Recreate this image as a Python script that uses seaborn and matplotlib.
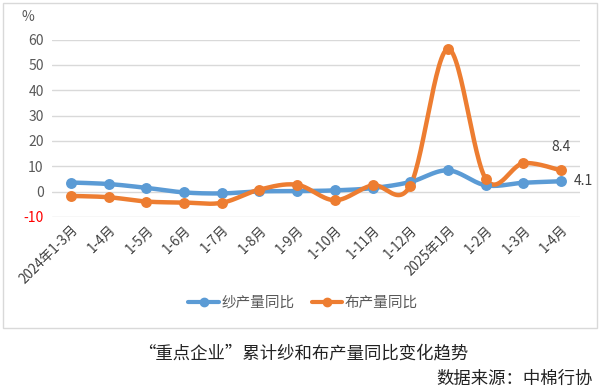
import numpy as np
import matplotlib
matplotlib.use('Agg')
import matplotlib.pyplot as plt
import seaborn as sns
import pandas as pd
from matplotlib.patches import Rectangle
from matplotlib.lines import Line2D

categories = ["2024年1-3月", "1-4月", "1-5月", "1-6月", "1-7月", "1-8月", "1-9月",
              "1-10月", "1-11月", "1-12月", "2025年1月", "1-2月", "1-3月", "1-4月"]
yarn = [3.6, 3.0, 1.5, -0.3, -0.7, 0.1, 0.2, 0.5, 1.4, 3.8, 8.4, 2.5, 3.5, 4.1]
cloth = [-1.7, -2.2, -3.9, -4.3, -4.4, 0.8, 2.7, -3.4, 2.5, 2.4, 56.3, 5.1, 11.2, 8.4]
yticks = [-10, 0, 10, 20, 30, 40, 50, 60]
series_names = ["纱产量同比", "布产量同比"]

BLUE = "#5B9BD5"
ORANGE = "#ED7D31"

sns.set_theme(style='white')
plt.rcParams['font.family'] = ['Noto Sans CJK SC', 'DejaVu Sans']


def smooth(xs, ys, n=30):
    """Excel-like smoothed line (Catmull-Rom Bezier) through the points."""
    P = np.column_stack([xs, ys]).astype(float)
    m = len(P)
    out = []
    for i in range(m - 1):
        p0 = P[i - 1] if i > 0 else P[i]
        p1 = P[i]
        p2 = P[i + 1]
        p3 = P[i + 2] if i + 2 < m else P[i + 1]
        c1 = p1 + (p2 - p0) / 6.0
        c2 = p2 - (p3 - p1) / 6.0
        t = np.linspace(0, 1, n)[:, None]
        seg = ((1 - t) ** 3) * p1 + 3 * ((1 - t) ** 2) * t * c1 + 3 * (1 - t) * t ** 2 * c2 + t ** 3 * p2
        if i > 0:
            seg = seg[1:]
        out.append(seg)
    out = np.vstack(out)
    return out[:, 0], out[:, 1]


fig = plt.figure(figsize=(6, 3.91), dpi=100)
W, H = 600, 391
ax = fig.add_axes([52 / W, 1 - 217 / H, (580 - 52) / W, (217 - 39.5) / H])

x = np.arange(len(categories))
for vals, col in [(yarn, BLUE), (cloth, ORANGE)]:
    sx, sy = smooth(x, vals)
    sns.lineplot(x=sx, y=sy, sort=False, estimator=None, color=col, lw=3.2, ax=ax, zorder=3)
    sns.scatterplot(x=x, y=vals, color=col, s=62, edgecolor=col, linewidth=0, ax=ax, zorder=4)

ax.set_xlim(-0.5, len(categories) - 0.5)
ax.set_ylim(-10, 60)
ax.set_yticks(yticks)
ax.set_yticklabels([str(v) for v in yticks], fontsize=10, color="#595959")
for lab in ax.get_yticklabels():
    if lab.get_text().startswith('-'):
        lab.set_color('red')
ax.set_xticks(x)
ax.set_xticklabels(categories, rotation=45, ha='right', rotation_mode='anchor',
                   fontsize=9.7, color="#404040")
ax.tick_params(axis='both', length=0, pad=6)
ax.tick_params(axis='x', pad=4)
ax.yaxis.grid(True, color="#d9d9d9", lw=1.0)
ax.set_axisbelow(True)
for s in ax.spines.values():
    s.set_visible(False)
ax.set_xlabel('')
ax.set_ylabel('')

ax.annotate(f"{cloth[-1]}", (x[-1], cloth[-1]), xytext=(0, 12), textcoords='offset points',
            ha='center', va='bottom', fontsize=10, color="#404040")
ax.annotate(f"{yarn[-1]}", (x[-1], yarn[-1]), xytext=(9, 0), textcoords='offset points',
            ha='left', va='center', fontsize=10, color="#404040")

fig.text(28 / W, 1 - 17 / H, "%", ha='center', va='center', fontsize=10, color="#595959")

handles = [Line2D([0], [0], color=BLUE, lw=3, marker='o', markersize=6),
           Line2D([0], [0], color=ORANGE, lw=3, marker='o', markersize=6)]
fig.legend(handles, series_names, loc='center', bbox_to_anchor=(303 / W, 1 - 303 / H),
           ncol=2, frameon=False, fontsize=10.5, handlelength=2.1, columnspacing=1.2,
           handletextpad=0.15, labelcolor="#595959")

fig.patches.append(Rectangle((3 / W, 1 - 328 / H), 594 / W, 325 / H, transform=fig.transFigure,
                             fill=False, ec="#d9d9d9", lw=1.0))

fig.text(303 / W, 1 - 353 / H, "“重点企业”累计纱和布产量同比变化趋势", ha='center', va='center',
         fontsize=12.5, color="#222222")
fig.text(593 / W, 1 - 379 / H, "数据来源：中棉行协", ha='right', va='center',
         fontsize=12.5, color="#222222")

fig.savefig("out.png", dpi=100, facecolor='white')
